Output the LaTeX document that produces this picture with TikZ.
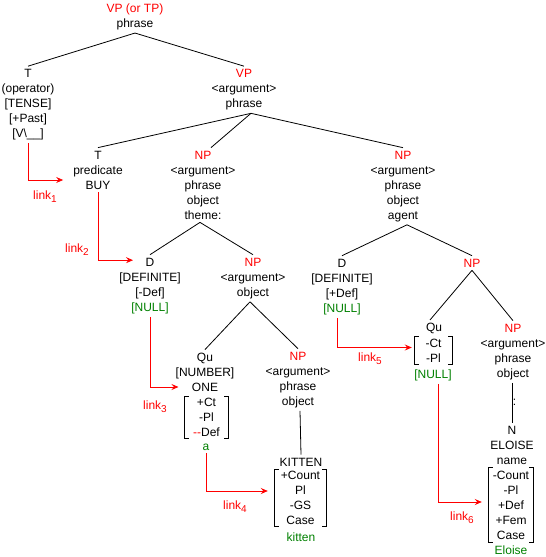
\documentclass[tikz,border=0pt]{standalone}
\usepackage{fontspec}
\setmainfont{Liberation Sans}
\usetikzlibrary{arrows.meta}
\definecolor{lred}{RGB}{255,0,0}
\definecolor{lgreen}{RGB}{0,128,0}
\newcommand\bracketize[1]{%
  \draw[branch] ([xshift=4pt]#1.north west) -- (#1.north west) -- (#1.south west) -- ([xshift=4pt]#1.south west);
  \draw[branch] ([xshift=-4pt]#1.north east) -- (#1.north east) -- (#1.south east) -- ([xshift=-4pt]#1.south east);}
\newcommand\rd[1]{\textcolor{lred}{#1}}
\newcommand\gr[1]{\textcolor{lgreen}{#1}}
\newcommand\lsub[1]{\raisebox{-3.5pt}{\fontsize{10}{12}\selectfont #1}}
\begin{document}
\begin{tikzpicture}[x=1pt,y=-1pt,
  every node/.style={font=\fontsize{12}{15}\selectfont, inner sep=3pt, align=center},
  branch/.style={line width=0.8pt},
  link/.style={draw=lred, line width=0.8pt, -{Stealth[length=7pt,width=6pt,inset=2.5pt]}},
  lab/.style={text=lred, inner sep=0pt},
  brk/.style={inner sep=0pt, align=center}]
\useasboundingbox (0,0) rectangle (546,557);

% nodes
\node (root) at (135,16.75) {\rd{VP (or TP)}\\phrase};
\node (topT) at (28,104.75) {T\\(operator)\\{}[TENSE]\\{}[+Past]\\{}[V\textbackslash\_\_]};
\node (vp) at (244,89.75) {\rd{VP}\\<argument>\\phrase};
\node (predT) at (98,170) {T\\predicate\\BUY};
\node (npA) at (203,185) {\rd{NP}\\<argument>\\phrase\\object\\theme:};
\node (npB) at (403,186.25) {\rd{NP}\\<argument>\\phrase\\object\\agent};
\node (dA) at (150,285.75) {D\\{}[DEFINITE]\\{}[-Def]\\\gr{[NULL]}};
\node (npA2) at (253,278.25) {\rd{NP}\\<argument>\\object};
\node (quA) at (205,372) {Qu\\{}[NUMBER]\\ONE};
\node[brk, minimum width=43pt, minimum height=41pt] (brA) at (206.5,417.5) {+Ct\\-Pl\\\rd{-{}-}Def};
\node (aA) at (206,447) {\gr{a}};
\node (npA3) at (298,379.75) {\rd{NP}\\<argument>\\phrase\\object};
\node (kitN) at (301,462) {KITTEN};
\node[brk, minimum width=51pt, minimum height=56pt] (brK) at (300.5,498) {+Count\\Pl\\-GS\\Case};
\node (kitL) at (301,537) {\gr{kitten}};
\node (dB) at (342,286.75) {D\\{}[DEFINITE]\\{}[+Def]\\\gr{[NULL]}};
\node (npB2) at (472,263) {\rd{NP}};
\node (quB) at (434,328.5) {Qu};
\node[brk, minimum width=37pt, minimum height=27pt] (brB) at (433.5,350.5) {-Ct\\-Pl};
\node (nullB) at (433,375) {\gr{[NULL]}};
\node (npB3) at (513,351.75) {\rd{NP}\\<argument>\\phrase\\object};
\node (nN) at (512,445) {N\\ELOISE\\name};
\node[brk, minimum width=44pt, minimum height=74pt] (brN) at (511,505) {-Count\\-Pl\\+Def\\+Fem\\Case};
\node (elL) at (511,550) {\gr{Eloise}};
\node[inner sep=0pt] (colon) at (514.5,402) {:};

\bracketize{brA}
\bracketize{brK}
\bracketize{brB}
\bracketize{brN}

% tree branches
\draw[branch] (root.south) -- (topT.north);
\draw[branch] (root.south) -- (vp.north);
\draw[branch] ([xshift=7pt]vp.south) -- (predT.north);
\draw[branch] ([xshift=7pt]vp.south) -- ([xshift=8pt]npA.north);
\draw[branch] ([xshift=7pt]vp.south) -- (npB.north);
\draw[branch] ([xshift=-3pt]npA.south) -- (dA.north);
\draw[branch] ([xshift=-3pt]npA.south) -- (npA2.north);
\draw[branch] ([xshift=-3pt]npA2.south) -- (quA.north);
\draw[branch] ([xshift=-3pt]npA2.south) -- (npA3.north);
\draw[branch] ([xshift=2pt]npA3.south) -- (kitN.north);
\draw[branch] ([xshift=4pt]npB.south) -- (dB.north);
\draw[branch] ([xshift=4pt]npB.south) -- (npB2.north);
\draw[branch] (npB2.south) -- ([xshift=-4pt]quB.north);
\draw[branch] (npB2.south) -- (npB3.north);
\draw[branch] ([xshift=-1pt]npB3.south) -- (nN.north);

% links
\draw[link] (topT.south) |- ([xshift=-7pt,yshift=-10pt]predT.west);
\draw[link] (predT.south) |- ([xshift=-17pt,yshift=-5.5pt]dA.north);
\draw[link] (dA.south) |- ([xshift=6pt,yshift=-15pt]quA.west);
\draw[link] (aA.south) |- ([xshift=-7pt,yshift=7pt]brK.west);
\draw[link] ([xshift=-5pt]dB.south) |- ([xshift=-3pt,yshift=3pt]brB.west);
\draw[link] ([xshift=5pt]nullB.south) |- ([xshift=-7pt,yshift=3pt]brN.west);

% link labels
\node[lab] (l1) at (45,196.5) {link\lsub{1}};
\node[lab] (l2) at (77,249.5) {link\lsub{2}};
\node[lab] (l3) at (155,406.5) {link\lsub{3}};
\node[lab] (l4) at (235,506.5) {link\lsub{4}};
\node[lab] (l5) at (370,358.5) {link\lsub{5}};
\node[lab] (l6) at (462,517.5) {link\lsub{6}};
\end{tikzpicture}
\end{document}
